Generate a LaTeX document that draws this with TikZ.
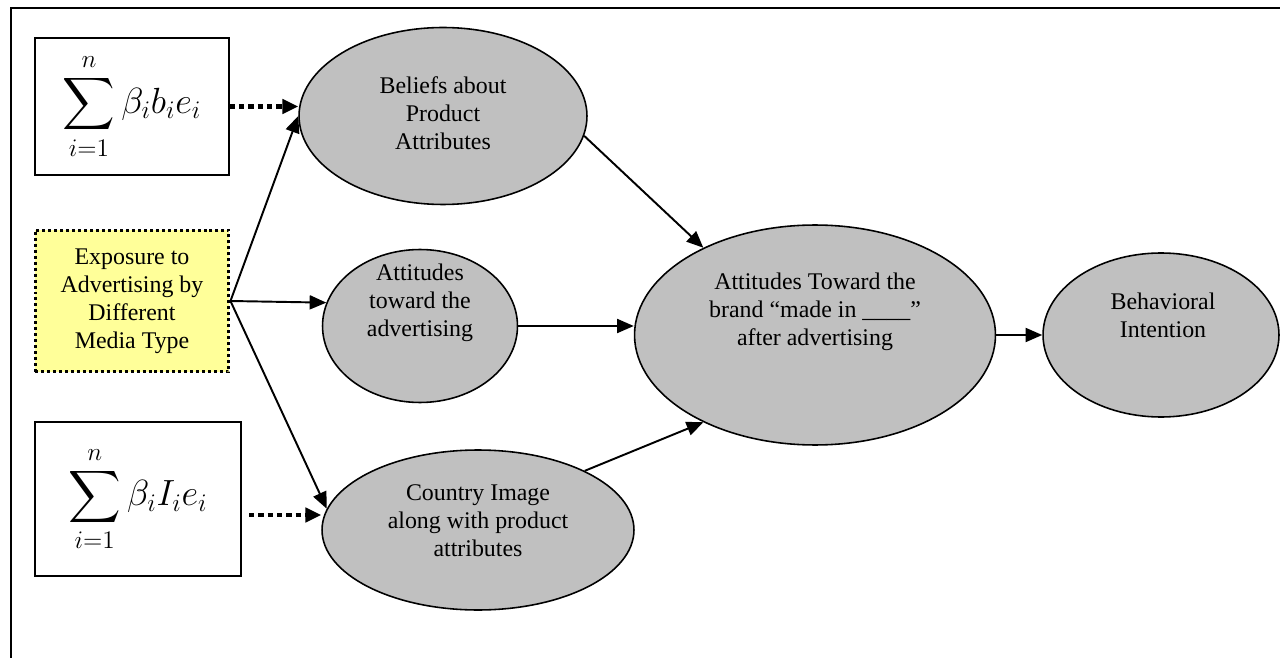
\documentclass[tikz,border=0pt]{standalone}
\usepackage{fontspec}
\setmainfont{Liberation Serif}
\usepackage{amsmath}
\usetikzlibrary{shapes.geometric, arrows.meta}

\definecolor{ovalgray}{HTML}{C0C0C0}
\definecolor{paleyellow}{HTML}{FFFF99}

\tikzset{
    oval/.style={ellipse, draw, line width=0.9pt, fill=ovalgray, inner sep=0pt},
    txt/.style={align=center, font=\fontsize{13.6}{15.9}\selectfont},
    sumbox/.style={draw, line width=0.8pt, inner sep=0pt, font=\fontsize{22}{26}\selectfont},
    arr/.style={line width=1.1pt, -{Triangle[length=9.5pt, width=8pt]}},
    dotarr/.style={line width=2.3pt, dash pattern=on 3pt off 2.3pt, -{Triangle[length=9pt, width=8pt]}},
}

\begin{document}
\begin{tikzpicture}[x=0.02cm, y=-0.02cm]
    \useasboundingbox (0, 0) rectangle (1280, 658);
    \draw[line width=1.2pt] (11, 658) -- (11, 8) -- (1280, 8);

    \node[sumbox, minimum width=3.88cm, minimum height=2.74cm] at (132, 106.5) (S1) {$\displaystyle\sum_{i=1}^{n}\beta_i b_i e_i$};
    \node[draw, line width=1.7pt, dash pattern=on 1.7pt off 1.7pt, fill=paleyellow, minimum width=3.88cm, minimum height=2.84cm, txt] at (132, 301) (E) {Exposure to\\Advertising by\\Different\\Media Type};
    \node[sumbox, minimum width=4.12cm, minimum height=3.08cm] at (138, 499) (S2) {$\displaystyle\sum_{i=1}^{n}\beta_i I_i e_i$};
    \coordinate (d2) at (249, 515);

    \node[oval, minimum width=5.76cm, minimum height=3.54cm] at (443, 116) (B) {};
    \node[oval, minimum width=3.9cm, minimum height=3.06cm] at (420, 326) (A) {};
    \node[oval, minimum width=6.24cm, minimum height=3.2cm] at (478, 530) (C) {};
    \node[oval, minimum width=7.22cm, minimum height=4.4cm] at (815, 335) (T) {};
    \node[oval, minimum width=4.72cm, minimum height=3.28cm] at (1161, 335) (BI) {};

    \node[txt] at (443, 113) (Btxt) {Beliefs about\\Product\\Attributes};
    \node[txt] at (420, 303) (Atxt) {Attitudes\\toward the\\advertising};
    \node[txt] at (478, 521) (Ctxt) {Country Image\\along with product\\attributes};
    \node[txt] at (815, 312) (Ttxt) {Attitudes Toward the\\brand “made in \_\_\_\_”\\after advertising};
    \node[txt] at (1163, 315) (BItxt) {Behavioral\\Intention};

    \draw[dotarr] (S1.east) -- (S1.east -| B.west);
    \draw[dotarr] (d2) -- (d2 -| C.west);

    \draw[arr] (E.east) -- (B.west);
    \draw[arr] (E.east) -- (A.166);
    \draw[arr] (E.east) -- (C.172);
    \draw[arr] (B.-8) -- (T.142);
    \draw[arr] (A.east) -- (A.east -| T.west);
    \draw[arr] (C.29) -- (T.218);
    \draw[arr] (T.east) -- (T.east -| BI.west);
\end{tikzpicture}
\end{document}
